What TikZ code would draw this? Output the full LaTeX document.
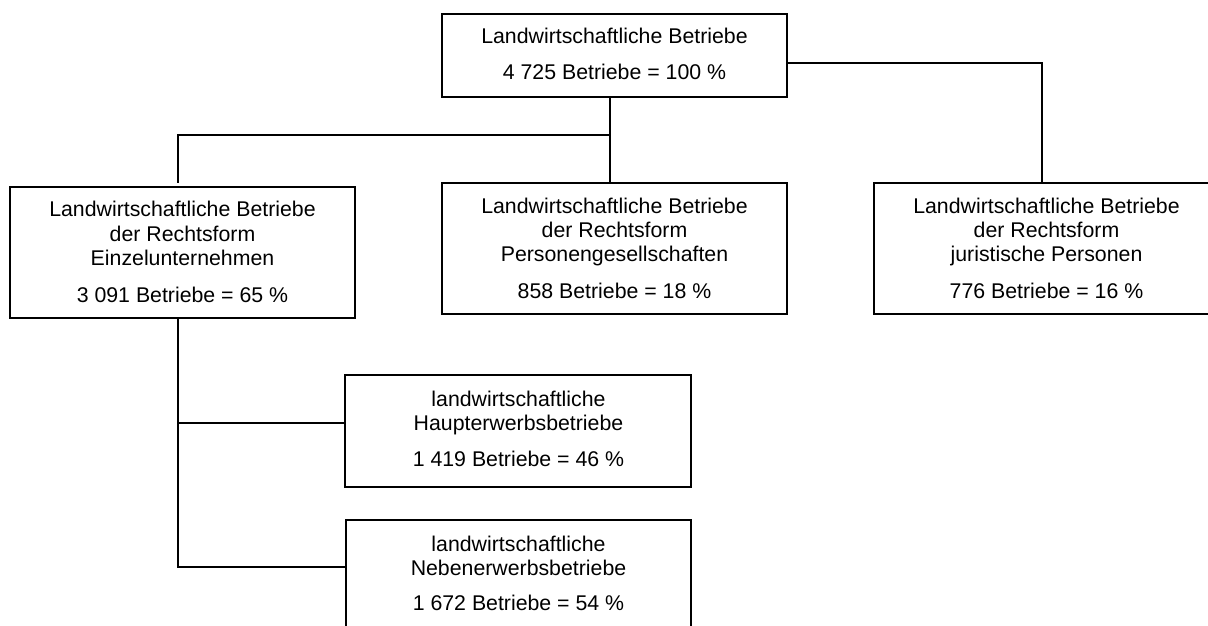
\documentclass[tikz,border=0pt]{standalone}
\usepackage{fontspec}
\setmainfont{Liberation Sans}
\begin{document}
\begin{tikzpicture}[x=1pt,y=1pt,
  box/.style={draw=black,line width=1.9pt,rectangle,inner sep=0pt,minimum width=345.6pt},
  txt/.style={anchor=base,inner sep=0pt,font=\fontsize{21.3}{24}\selectfont},
  conn/.style={draw=black,line width=1.9pt}]
\useasboundingbox (0,0) rectangle (1208,-626);
% boxes
\node[box,minimum height=82.4pt]  (top)   at (614.5,-55.5) {};
\node[box,minimum height=131pt]   (left)  at (182.5,-252.2) {};
\node[box,minimum height=130.7pt] (mid)   at (614.5,-248.7) {};
\node[box,minimum height=130.7pt] (right) at (1047,-248.7) {};
\node[box,minimum height=112pt]   (haupt) at (518.2,-431) {};
\node[box,minimum height=112pt]   (neben) at (518.5,-576) {};
% texts
\node[txt] (t1) at (614.5,-43.3) {Landwirtschaftliche Betriebe};
\node[txt] (t2) at (614.5,-80) {4 725 Betriebe = 100 \%};

\node[txt] (l1) at (182.5,-216.7) {Landwirtschaftliche Betriebe};
\node[txt] (l2) at (182.5,-241) {der Rechtsform};
\node[txt] (l3) at (182.5,-265.3) {Einzelunternehmen};
\node[txt] (l4) at (182.5,-302.3) {3 091 Betriebe = 65 \%};

\node[txt] (m1) at (614.5,-213.3) {Landwirtschaftliche Betriebe};
\node[txt] (m2) at (614.5,-237.7) {der Rechtsform};
\node[txt] (m3) at (614.5,-261.7) {Personengesellschaften};
\node[txt] (m4) at (614.5,-298.3) {858 Betriebe = 18 \%};

\node[txt] (r1) at (1046.5,-213.3) {Landwirtschaftliche Betriebe};
\node[txt] (r2) at (1046.5,-237.7) {der Rechtsform};
\node[txt] (r3) at (1046.5,-261.7) {juristische Personen};
\node[txt] (r4) at (1046.5,-298.3) {776 Betriebe = 16 \%};

\node[txt] (h1) at (518.5,-406.7) {landwirtschaftliche};
\node[txt] (h2) at (518.5,-430) {Haupterwerbsbetriebe};
\node[txt] (h3) at (518.5,-466.7) {1 419 Betriebe = 46 \%};

\node[txt] (n1) at (518.5,-551.7) {landwirtschaftliche};
\node[txt] (n2) at (518.5,-575) {Nebenerwerbsbetriebe};
\node[txt] (n3) at (518.5,-610.7) {1 672 Betriebe = 54 \%};
% connector points
\coordinate (j1) at (610.3,-135);
\coordinate (jl) at (178.3,-183.3);
\coordinate (jr) at (1042.3,-62.7);
\coordinate (jh) at (178.3,-422.7);
\coordinate (jn) at (178.3,-567.3);
% connectors
\draw[conn] (top.south -| j1) -- (mid.north -| j1);
\draw[conn] (j1) -| (jl);
\draw[conn] (top.east |- jr) -| (right.north -| jr);
\draw[conn] (left.south -| jh) -- (jn) -- (neben.west |- jn);
\draw[conn] (jh) -- (haupt.west |- jh);
\end{tikzpicture}
\end{document}
